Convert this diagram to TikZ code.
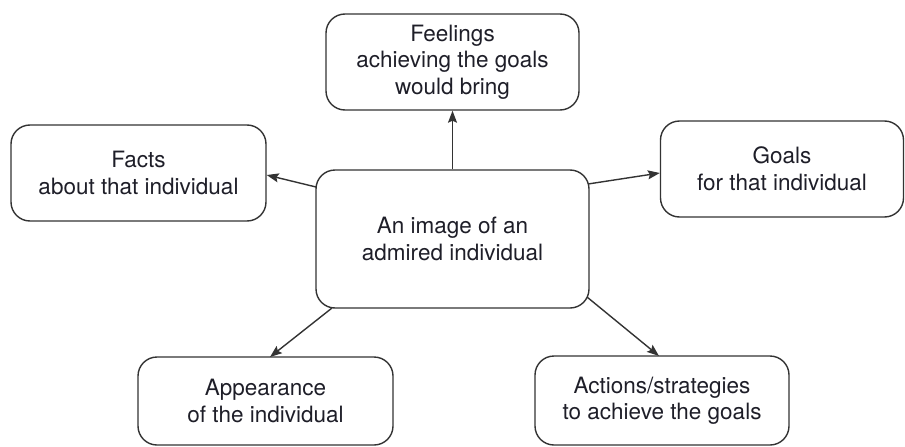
\documentclass[tikz,border=0pt]{standalone}
\usepackage{fontspec}
\setmainfont{TeX Gyre Heros}
\usetikzlibrary{arrows.meta}
\definecolor{lc}{HTML}{333333}
\definecolor{tc}{HTML}{1E1E28}
\begin{document}
\begin{tikzpicture}[x=1pt,y=-1pt,
  box/.style={draw=lc,line width=1.4pt,rounded corners=19pt,align=center,
    inner sep=0pt,font=\fontsize{22.5}{26.5}\selectfont,text=tc},
  arr/.style={draw=lc,line width=1.4pt,-{Stealth[length=12pt,width=9pt,inset=2pt]}}]
\useasboundingbox (0,0) rectangle (905,447);
\node[box,minimum width=253pt,minimum height=96pt] (feel) at (452.5,62) {Feelings\\achieving the goals\\would bring};
\node[box,minimum width=255pt,minimum height=96pt] (facts) at (138.5,173) {Facts\\about that individual};
\node[box,minimum width=243pt,minimum height=96pt] (goals) at (782,169) {Goals\\for that individual};
\node[box,minimum width=273pt,minimum height=138pt] (ctr) at (452.5,239) {An image of an\\admired individual};
\node[box,minimum width=255pt,minimum height=88pt] (app) at (265.5,401) {Appearance\\of the individual};
\node[box,minimum width=254pt,minimum height=89pt] (act) at (662,400.5) {Actions/strategies\\to achieve the goals};
\coordinate (c1) at (316,187);
\coordinate (c2) at (588,184);
\coordinate (c3) at (332,308);
\coordinate (c4) at (587,297);
\draw[arr] (ctr.north) -- (feel.south);
\draw[arr] (c1) -- (facts.east |- 0,175);
\draw[arr] (c2) -- (goals.west |- 0,173);
\draw[arr] (c3) -- (270,357);
\draw[arr] (c4) -- (659,356);
\end{tikzpicture}
\end{document}
